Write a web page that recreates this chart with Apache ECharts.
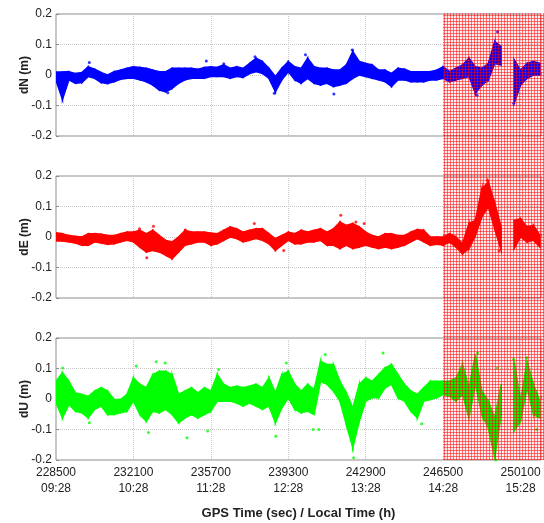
<!DOCTYPE html>
<html>
<head>
<meta charset="utf-8">
<script src="https://cdn.jsdelivr.net/npm/echarts@6/dist/echarts.min.js"></script>
<style>
  html, body { margin: 0; padding: 0; background: #fff; }
  #chart { width: 544px; height: 523px; }
</style>
</head>
<body>
<div id="chart"></div>
<script>
// GPS time of each sample (sec)
const times = [228500, 228800, 229100, 229400, 229700, 230000, 230300, 230600, 230900, 231200,
  231500, 231800, 232100, 232400, 232700, 233000, 233300, 233600, 233900, 234200,
  234500, 234800, 235100, 235400, 235700, 236000, 236300, 236600, 236900, 237200,
  237500, 237800, 238100, 238400, 238700, 239000, 239300, 239600, 239900, 240200,
  240500, 240800, 241100, 241400, 241700, 242000, 242300, 242600, 242900, 243200,
  243500, 243800, 244100, 244400, 244700, 245000, 245300, 245600, 245900, 246200,
  246500, 246800, 247100, 247400, 247700, 248000, 248300, 248600, 248900, 249200,
  249500, 249800, 250100, 250400, 250700, 251000]

// dN band: upper / lower edge of the point cloud (m)
const dnHi = [0.01, 0.01, 0.011, 0.005, 0.008, 0.027, 0.019, 0.008, 0.0, 0.011,
  0.016, 0.022, 0.027, 0.025, 0.022, 0.016, 0.011, 0.011, 0.022, 0.022,
  0.022, 0.022, 0.019, 0.025, 0.027, 0.025, 0.033, 0.022, 0.027, 0.022,
  0.038, 0.055, 0.044, 0.022, -0.005, 0.022, 0.044, 0.027, 0.022, 0.055,
  0.027, 0.022, 0.022, 0.016, 0.016, 0.033, 0.077, 0.044, 0.038, 0.033,
  0.016, 0.016, 0.005, 0.022, 0.019, 0.011, 0.011, 0.011, 0.011, 0.016,
  0.027, 0.011, 0.022, 0.033, 0.055, 0.027, 0.022, 0.038, 0.11, 0.093,
  null, 0.05, 0.016, 0.038, 0.044, 0.038]
const dnLo = [-0.018, -0.08, -0.016, -0.027, -0.025, -0.005, -0.011, -0.025, -0.028, -0.022,
  -0.014, -0.011, -0.011, -0.016, -0.022, -0.033, -0.049, -0.055, -0.044, -0.027,
  -0.016, -0.011, -0.011, -0.011, -0.005, -0.005, -0.005, -0.011, -0.005, -0.008,
  0.005, 0.011, 0.005, -0.011, -0.055, -0.016, 0.011, -0.016, -0.027, -0.011,
  -0.027, -0.033, -0.027, -0.038, -0.033, -0.027, -0.011, 0.0, -0.005, -0.011,
  -0.016, -0.022, -0.038, -0.016, -0.016, -0.022, -0.022, -0.022, -0.016, -0.016,
  -0.011, -0.022, -0.016, -0.011, -0.005, -0.06, -0.033, -0.016, 0.038, 0.033,
  null, -0.093, -0.033, -0.011, 0.0, 0.0]
const dnPts = [[230050, 0.041], [235490, 0.046], [236300, 0.037], [237750, 0.06], [240100, 0.066],
  [241420, -0.062], [242270, 0.082], [248070, -0.066], [249030, 0.142], [249780, -0.093],
  [233700, -0.058], [238650, -0.06]]

// dE band (m)
const deHi = [0.014, 0.011, 0.005, 0.002, 0.0, 0.011, 0.011, 0.009, 0.005, 0.005,
  0.011, 0.016, 0.016, 0.022, 0.011, 0.022, 0.005, -0.011, -0.016, 0.0,
  0.022, 0.016, 0.016, 0.016, 0.013, 0.011, 0.022, 0.033, 0.027, 0.016,
  0.022, 0.027, 0.027, 0.011, -0.005, 0.005, 0.016, 0.011, 0.022, 0.016,
  0.022, 0.027, 0.016, 0.027, 0.049, 0.038, 0.044, 0.033, 0.016, 0.005,
  0.0, 0.011, 0.011, 0.005, 0.005, 0.016, 0.024, 0.022, 0.0, 0.0,
  0.0, 0.011, 0.0, -0.022, 0.044, 0.055, 0.158, 0.18, 0.11, 0.033,
  null, 0.055, 0.06, 0.033, 0.038, 0.005]
const deLo = [-0.013, -0.013, -0.016, -0.02, -0.027, -0.027, -0.016, -0.02, -0.024, -0.022,
  -0.016, -0.011, -0.016, -0.033, -0.049, -0.044, -0.049, -0.06, -0.071, -0.049,
  -0.027, -0.022, -0.016, -0.016, -0.027, -0.022, -0.011, 0.0, -0.005, -0.016,
  -0.011, -0.005, -0.011, -0.022, -0.044, -0.027, -0.011, -0.022, -0.022, -0.016,
  -0.016, -0.011, -0.027, -0.027, -0.038, -0.027, -0.038, -0.033, -0.027, -0.033,
  -0.038, -0.033, -0.038, -0.033, -0.027, -0.016, -0.005, -0.016, -0.027, -0.024,
  -0.027, -0.016, -0.033, -0.055, -0.038, 0.005, 0.066, 0.098, 0.027, -0.044,
  null, -0.038, 0.0, -0.016, -0.011, -0.033]
const dePts = [[232380, 0.027], [232720, -0.068], [233030, 0.035], [234510, 0.023], [237720, 0.044],
  [239090, -0.044], [241740, 0.071], [242440, 0.049], [242830, 0.044], [248560, 0.186],
  [249100, -0.045]]

// dU band (m)
const duHi = [0.058, 0.086, 0.058, 0.02, 0.015, 0.009, 0.026, 0.037, 0.026, -0.002,
  -0.002, 0.015, 0.069, 0.048, 0.037, 0.08, 0.091, 0.091, 0.08, 0.015,
  0.026, 0.037, 0.02, 0.037, 0.026, 0.08, 0.048, 0.037, 0.042, 0.037,
  0.042, 0.048, 0.037, 0.069, 0.02, 0.08, 0.091, 0.048, 0.026, 0.048,
  0.031, 0.124, 0.113, 0.113, 0.058, 0.02, -0.029, 0.048, 0.069, 0.058,
  0.08, 0.102, 0.113, 0.08, 0.048, 0.026, 0.015, 0.037, 0.058, 0.058,
  0.058, 0.058, 0.069, 0.113, 0.037, 0.146, 0.026, -0.007, -0.062, 0.048,
  null, 0.124, -0.007, 0.124, 0.048, -0.007]
const duLo = [-0.013, -0.062, -0.018, -0.04, -0.045, -0.062, -0.034, -0.023, -0.051, -0.051,
  -0.045, -0.04, -0.007, -0.051, -0.073, -0.04, -0.045, -0.034, -0.051, -0.078,
  -0.062, -0.051, -0.062, -0.051, -0.04, -0.007, -0.007, -0.007, -0.013, -0.023,
  -0.013, -0.023, -0.034, -0.023, -0.078, -0.029, 0.004, -0.034, -0.045, -0.04,
  -0.051, 0.058, 0.048, 0.026, -0.007, -0.084, -0.16, -0.073, -0.007, 0.004,
  0.004, 0.037, 0.048, 0.004, -0.007, -0.04, -0.062, -0.007, -0.002, 0.004,
  0.015, 0.009, -0.007, 0.015, -0.062, 0.048, -0.051, -0.095, -0.193, -0.051,
  null, -0.105, -0.073, 0.037, -0.051, -0.062]
const duPts = [[228810, 0.102], [230050, -0.078], [232230, 0.108], [232800, -0.11], [233160, 0.122],
  [233580, 0.118], [234590, -0.127], [235550, -0.105], [236060, 0.097], [238720, -0.122],
  [239210, 0.118], [240460, -0.1], [240720, -0.1], [241020, 0.146], [242340, -0.193],
  [243710, 0.151], [245500, -0.081], [248100, 0.151], [249030, 0.102], [248950, -0.2],
  [249780, 0.13], [250400, 0.135], [250840, -0.1]]

// x tick labels
const gpsTicks = [228500, 232100, 235700, 239300, 242900, 246500, 250100]
const localTicks = ['09:28', '10:28', '11:28', '12:28', '13:28', '14:28', '15:28']

const shadeStart = 246500
const xMin = 228500
const xMax = 251050

const panels = [
  { name: 'dN (m)', hi: dnHi, lo: dnLo, pts: dnPts, color: '#0000ff' },
  { name: 'dE (m)', hi: deHi, lo: deLo, pts: dePts, color: '#ff0000' },
  { name: 'dU (m)', hi: duHi, lo: duLo, pts: duPts, color: '#00ff00' },
]

const font = 'Arial, "Liberation Sans", sans-serif'
const gridTops = [14, 176, 338]

const chart = echarts.init(document.getElementById('chart'))

const grid = gridTops.map((top) => ({
  left: 56,
  right: 3,
  top: top,
  height: 122,
  show: true,
  borderColor: '#8c8c8c',
  borderWidth: 1,
  backgroundColor: '#fff',
}))

const xAxis = panels.map((p, i) => ({
  type: 'value',
  gridIndex: i,
  min: xMin,
  max: xMax,
  interval: 3600,
  axisLine: { show: false },
  axisTick: { show: true, inside: true, length: 3, lineStyle: { color: '#8c8c8c' } },
  splitLine: { show: true, lineStyle: { color: '#c8c8c8', type: 'dotted' } },
  axisLabel: {
    show: i === 2,
    color: '#222',
    fontSize: 12,
    fontFamily: font,
    lineHeight: 16,
    margin: 5,
    formatter: (v) => {
      const k = gpsTicks.indexOf(v)
      return k < 0 ? '' : gpsTicks[k] + '\n' + localTicks[k]
    },
  },
  name: i === 2 ? 'GPS Time (sec) / Local Time (h)' : '',
  nameLocation: 'middle',
  nameGap: 47,
  nameTextStyle: { color: '#222', fontSize: 13, fontWeight: 'bold', fontFamily: font },
}))

const yAxis = panels.map((p, i) => ({
  type: 'value',
  gridIndex: i,
  min: -0.2,
  max: 0.2,
  interval: 0.1,
  axisLine: { show: false },
  axisTick: { show: true, inside: true, length: 3, lineStyle: { color: '#8c8c8c' } },
  splitLine: { show: true, lineStyle: { color: '#c8c8c8', type: 'dotted' } },
  axisLabel: { color: '#222', fontSize: 12, fontFamily: font, margin: 4 },
  name: p.name,
  nameLocation: 'middle',
  nameGap: 25,
  nameMoveOverlap: false,
  nameTextStyle: { color: '#222', fontSize: 12, fontWeight: 'bold', fontFamily: font },
}))

// band drawn as quads between consecutive samples: [t0, lo0, hi0, t1, lo1, hi1]
const bandItems = (p) => {
  const out = []
  for (let k = 0; k < times.length - 1; k++) {
    if (p.lo[k] == null || p.lo[k + 1] == null) continue
    out.push([times[k], p.lo[k], p.hi[k], times[k + 1], p.lo[k + 1], p.hi[k + 1]])
  }
  return out
}

const series = []
panels.forEach((p, i) => {
  series.push({
    type: 'custom',
    xAxisIndex: i,
    yAxisIndex: i,
    data: bandItems(p),
    encode: { x: [0, 3], y: [1, 2, 4, 5] },
    clip: true,
    z: 2,
    renderItem: (params, api) => {
      const a = api.coord([api.value(0), api.value(1)])
      const b = api.coord([api.value(3), api.value(4)])
      const c = api.coord([api.value(3), api.value(5)])
      const d = api.coord([api.value(0), api.value(2)])
      return {
        type: 'polygon',
        shape: { points: [a, b, c, d] },
        style: { fill: p.color, stroke: p.color, lineWidth: 1.5 },
      }
    },
  })
  series.push({
    type: 'scatter',
    xAxisIndex: i,
    yAxisIndex: i,
    data: p.pts,
    symbolSize: 3,
    itemStyle: { color: p.color },
    z: 3,
  })
})

chart.setOption({
  animation: false,
  grid: grid,
  xAxis: xAxis,
  yAxis: yAxis,
  series: series,
})

// red cross-hatched overlay spanning all three panels after shadeStart
const pat = document.createElement('canvas')
pat.width = 3
pat.height = 3
const ctx = pat.getContext('2d')
ctx.fillStyle = 'rgba(255,0,0,0.08)'
ctx.fillRect(0, 0, 3, 3)
ctx.fillStyle = 'rgba(255,0,0,0.5)'
ctx.fillRect(0, 0, 3, 1)
ctx.fillRect(0, 0, 1, 3)

const x0 = chart.convertToPixel({ xAxisIndex: 0 }, shadeStart)
const y0 = chart.convertToPixel({ yAxisIndex: 0 }, 0.2)
const y1 = chart.convertToPixel({ yAxisIndex: 2 }, -0.2)

chart.setOption({
  graphic: [
    {
      type: 'rect',
      z: 100,
      silent: true,
      shape: { x: x0, y: y0 - 1, width: chart.getWidth() - x0, height: y1 - y0 + 1 },
      style: { fill: { image: pat, repeat: 'repeat' } },
    },
  ],
})
</script>
</body>
</html>
